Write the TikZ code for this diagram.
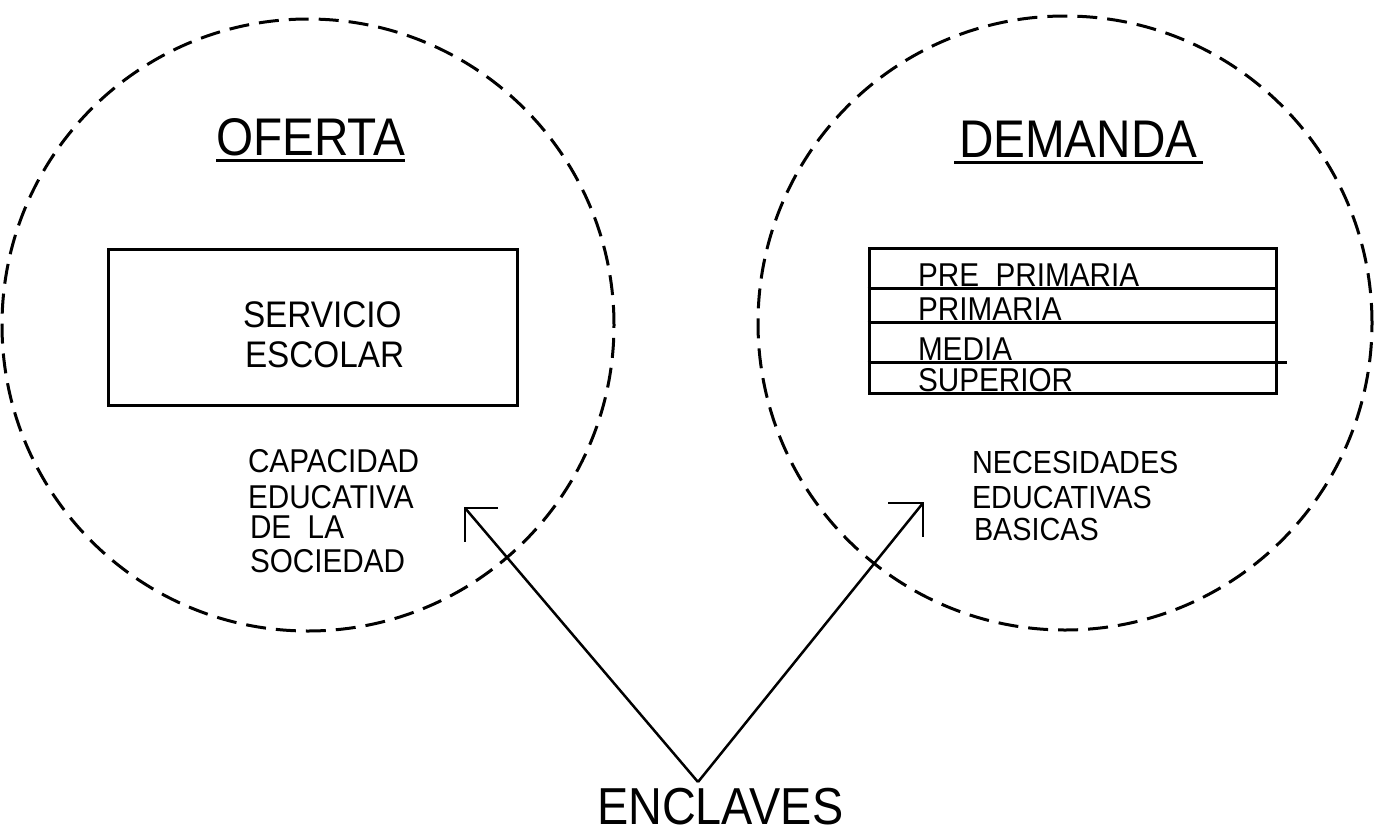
\documentclass[tikz,border=0pt]{standalone}
\usepackage{fontspec}
\setmainfont{Liberation Sans}[FakeStretch=0.9]
\newcommand\tsize[1]{\fontsize{#1}{#1}\selectfont}
\tikzset{
  lbl/.style={anchor=base west, inner sep=0pt, outer sep=0pt},
  ring/.style={draw, circle, dash pattern=on 20pt off 10pt, line width=3pt, inner sep=0pt},
  link/.style={line width=2.5pt},
  frame/.style={draw, line width=3pt, inner sep=0pt},
  rule/.style={line width=3pt}
}
\begin{document}
\begin{tikzpicture}[x=1pt,y=-1pt]
\useasboundingbox (0,0) rectangle (1377,836);
% circles
\node[ring, minimum size=612pt] (of) at (308,325) {};
\node[ring, minimum size=614pt] (de) at (1065,323) {};
% OFERTA side
\node[lbl, font=\tsize{53}] (ot) at (216,155) {OFERTA};
\draw[rule] ([yshift=-5pt]ot.base west) -- ([yshift=-5pt]ot.base east);
\node[frame, minimum width=409pt, minimum height=156pt] (sv) at (312.5,327) {};
\node[lbl, font=\tsize{37}] (s1) at (243,327) {SERVICIO};
\node[lbl, font=\tsize{37}] (s2) at (245,367) {ESCOLAR};
\node[lbl, font=\tsize{33}] (c1) at (248,472) {CAPACIDAD};
\node[lbl, font=\tsize{33}] (c2) at (248,508) {EDUCATIVA};
\node[lbl, font=\tsize{33}] (c3) at (250,538) {DE\ \ LA};
\node[lbl, font=\tsize{33}] (c4) at (250,572) {SOCIEDAD};
% DEMANDA side
\node[lbl, font=\tsize{53}] (dt) at (959,157) {DEMANDA};
\draw[rule] ([yshift=-5pt,xshift=-5pt]dt.base west) -- ([yshift=-5pt,xshift=5pt]dt.base east);
\node[frame, minimum width=407pt, minimum height=145pt] (tb) at (1072.5,320.5) {};
\draw[rule] (tb.west |- 0,288) -- (tb.east |- 0,288);
\draw[rule] (tb.west |- 0,322) -- (tb.east |- 0,322);
\draw[rule] (tb.west |- 0,362) -- ([xshift=9pt]tb.east |- 0,362);
\node[lbl, font=\tsize{33}] (r1) at (918,286) {PRE\ \ PRIMARIA};
\node[lbl, font=\tsize{33}] (r2) at (918,320) {PRIMARIA};
\node[lbl, font=\tsize{33}] (r3) at (918,360) {MEDIA};
\node[lbl, font=\tsize{33}] (r4) at (918,391) {SUPERIOR};
\node[lbl, font=\tsize{32}] (n1) at (972,473) {NECESIDADES};
\node[lbl, font=\tsize{32}] (n2) at (972,508) {EDUCATIVAS};
\node[lbl, font=\tsize{32}] (n3) at (974,540) {BASICAS};
% ENCLAVES and arrows
\node[lbl, font=\tsize{52}] (enc) at (597,824) {ENCLAVES};
\coordinate (J) at (698,782);
\coordinate (tl) at (465,508);
\coordinate (tr) at (923,503);
\draw[link] (J) -- (tl);
\draw[link] ([xshift=33pt]tl) -- (tl) -- ([yshift=-34pt]tl);
\draw[link] (J) -- (tr);
\draw[link] ([xshift=-35pt]tr) -- (tr) -- ([yshift=-34pt]tr);
\end{tikzpicture}
\end{document}
